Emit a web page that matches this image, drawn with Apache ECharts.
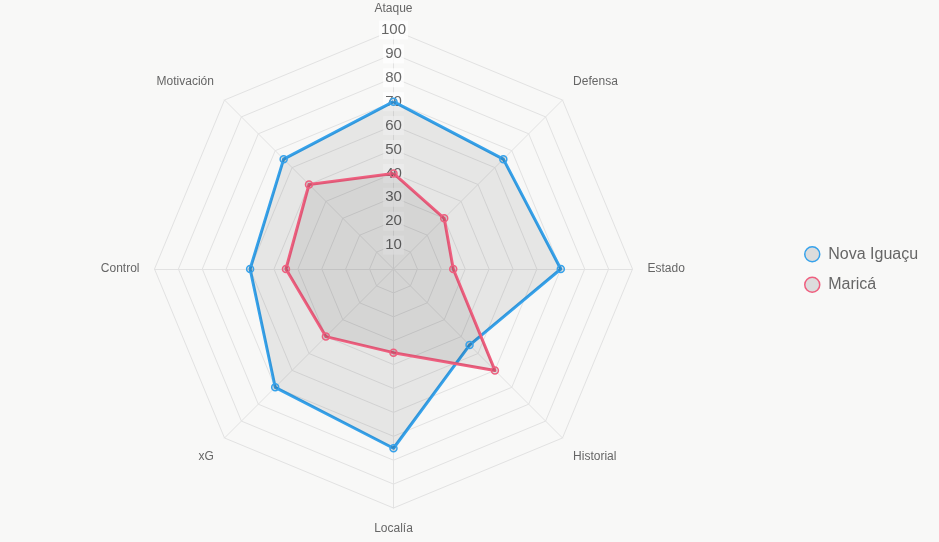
<!DOCTYPE html>
<html>
<head>
<meta charset="utf-8">
<style>
  html, body {margin: 0; padding: 0; background: #f8f8f7;}
  #chart {width: 939px; height: 542px;}
</style>
<script src="https://cdn.jsdelivr.net/npm/echarts@6/dist/echarts.min.js"></script>
</head>
<body>
<div id="chart"></div>
<script>
// Radar comparison of two teams, 0-100 scale per indicator.
// Indicators are listed clockwise from the top; ECharts lays them out
// counter-clockwise, so the order is flipped when building the option.

const INDICATORS = ["Ataque", "Defensa", "Estado", "Historial", "Localía", "xG", "Control", "Motivación"]
const TEAMS = ["Nova Iguaçu", "Maricá"]
const NOVA_IGUACU = [70, 65, 70, 45, 75, 70, 60, 65]
const MARICA = [40, 30, 25, 60, 35, 40, 45, 50]
const COLORS = ["#36a2eb", "#ef5f7f"]

const FONT = "'Liberation Sans', Arial, Helvetica, sans-serif"
const FILL = "rgba(0,0,0,0.1)"

// keep first, reverse the rest -> clockwise layout
const ORDER = [0, 7, 6, 5, 4, 3, 2, 1]
const clockwise = arr => ORDER.map(i => arr[i])

function seriesItem(name, values, color) {
  return {
    name,
    value: clockwise(values),
    symbol: "circle",
    symbolSize: 7,
    lineStyle: {color, width: 3},
    itemStyle: {color: FILL, borderColor: color, borderWidth: 1.5},
    areaStyle: {color: FILL},
  }
}

const names = clockwise(INDICATORS)

const chart = echarts.init(document.getElementById("chart"), null, {renderer: "canvas"})

chart.setOption({
  backgroundColor: "#f8f8f7",
  animation: false,
  textStyle: {fontFamily: FONT},
  legend: {
    orient: "vertical",
    left: 799,
    top: 241,
    itemGap: 14,
    itemWidth: 22,
    itemHeight: 15,
    icon: "circle",
    textStyle: {color: "#666", fontSize: 16, fontFamily: FONT},
    data: TEAMS.map((t, i) => ({
      name: t,
      itemStyle: {color: "#dcdcdc", borderColor: COLORS[i], borderWidth: 1.5},
    })),
  },
  radar: {
    center: [393.5, 269],
    radius: 239,
    startAngle: 90,
    shape: "polygon",
    splitNumber: 10,
    nameGap: 15,
    axisName: {
      color: "#666",
      fontSize: 12,
      fontFamily: FONT,
      formatter(name) {
        const i = names.indexOf(name)
        if (i === 1 || i === 7) return `{up|${name}}`
        if (i === 3 || i === 5) return `{down|${name}}`
        return name
      },
      rich: {
        up: {color: "#666", fontSize: 12, fontFamily: FONT, padding: [0, 0, 16, 0]},
        down: {color: "#666", fontSize: 12, fontFamily: FONT, padding: [17, 0, 0, 0]},
      },
    },
    indicator: names.map((name, i) => {
      const ind = {name, min: 0, max: 100}
      if (i === 0) {
        ind.axisLabel = {
          show: true,
          showMinLabel: false,
          align: "center",
          verticalAlign: "middle",
          margin: 0,
          color: "#666",
          fontSize: 15,
          fontFamily: FONT,
          lineHeight: 19,
          backgroundColor: "rgba(255,255,255,0.75)",
          padding: [0, 2],
        }
      }
      return ind
    }),
    axisLabel: {show: false},
    axisTick: {show: false},
    axisLine: {lineStyle: {color: "#e2e2e2", width: 1}},
    splitLine: {lineStyle: {color: "#e2e2e2", width: 1}},
    splitArea: {show: false},
  },
  series: [
    {
      type: "radar",
      data: [
        seriesItem(TEAMS[0], NOVA_IGUACU, COLORS[0]),
        seriesItem(TEAMS[1], MARICA, COLORS[1]),
      ],
    },
  ],
})
</script>
</body>
</html>
